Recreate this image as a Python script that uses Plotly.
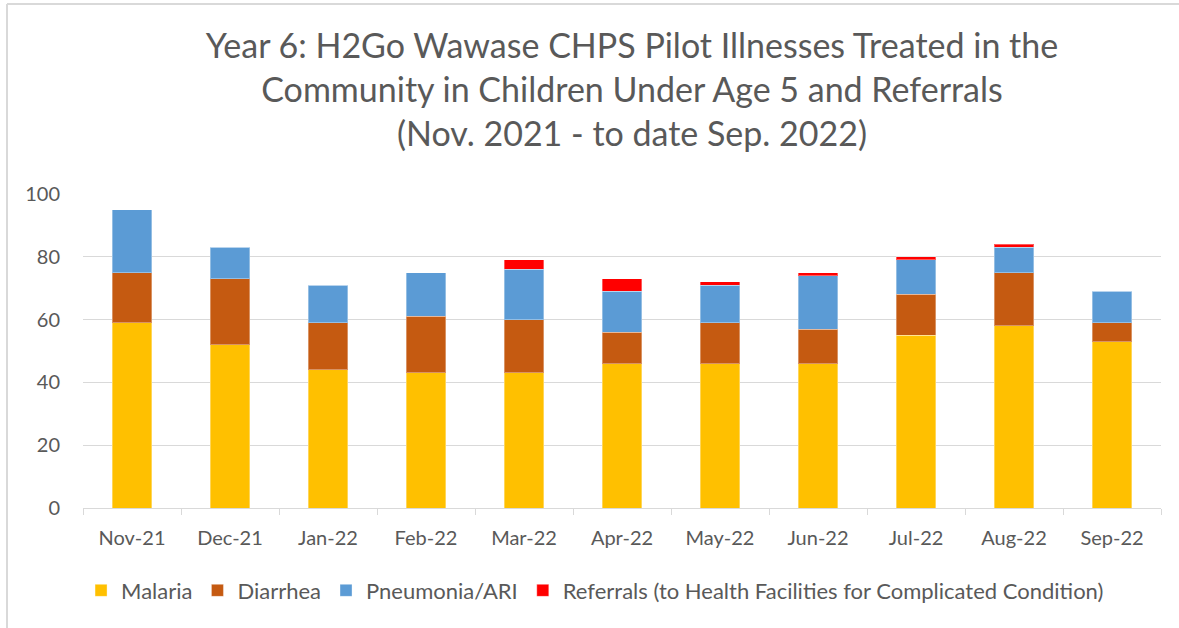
import plotly.graph_objects as go

months = ["Nov-21", "Dec-21", "Jan-22", "Feb-22", "Mar-22", "Apr-22",
          "May-22", "Jun-22", "Jul-22", "Aug-22", "Sep-22"]
malaria = [59, 52, 44, 43, 43, 46, 46, 46, 55, 58, 53]
diarrhea = [16, 21, 15, 18, 17, 10, 13, 11, 13, 17, 6]
pneumonia = [20, 10, 12, 14, 16, 13, 12, 17, 11, 8, 10]
referrals = [0, 0, 0, 0, 3, 4, 1, 1, 1, 1, 0]

series = [
    ("Malaria", malaria, "#FFC000"),
    ("Diarrhea", diarrhea, "#C55A11"),
    ("Pneumonia/ARI", pneumonia, "#5B9BD5"),
    ("Referrals (to Health Facilities for Complicated Condition)", referrals, "#FF0000"),
]

FONT = "Lato, 'Open Sans', sans-serif"
fig = go.Figure()
for name, vals, col in series:
    fig.add_trace(go.Bar(
        x=months, y=vals, name=name,
        marker=dict(color=col, line=dict(color="rgba(255,255,255,0.35)", width=1)),
    ))

fig.update_layout(
    barmode="stack",
    bargap=0.6,
    width=1179, height=628,
    margin=dict(l=83, r=18, t=194, b=120),
    paper_bgcolor="white", plot_bgcolor="white",
    font=dict(family=FONT, color="#595959", size=20),
    title=dict(
        text="Year 6: H2Go Wawase CHPS Pilot Illnesses Treated in the<br>Community in Children Under Age 5 and Referrals<br>(Nov. 2021 - to date Sep. 2022)",
        x=632/1179, xanchor="center", y=1 - 58/628, yanchor="top",
        font=dict(family=FONT, size=34, color="#595959"),
    ),
    legend=dict(
        orientation="h", x=0.475, xanchor="center", y=-0.196, yanchor="top",
        font=dict(family=FONT, size=22, color="#595959"),
        traceorder="normal", itemwidth=30,
    ),
    showlegend=True,
)
fig.update_yaxes(
    range=[0, 100], dtick=20, showgrid=True, gridcolor="#d9d9d9", gridwidth=1,
    zeroline=False, showline=False, ticks="", tickfont=dict(size=20, color="#595959"),
    ticklabelstandoff=22,
)
fig.update_xaxes(
    showline=True, linecolor="#d9d9d9", linewidth=1,
    ticks="outside", tickson="boundaries", ticklen=6, tickcolor="#d9d9d9",
    tickfont=dict(size=20, color="#595959"), ticklabelstandoff=12,
)

bx = (7 - 83) / 1078
ty = (508 - 4) / 314
fig.add_shape(type="line", xref="paper", yref="paper", x0=bx, x1=bx, y0=-1, y1=ty,
              line=dict(color="#d9d9d9", width=2))
fig.add_shape(type="line", xref="paper", yref="paper", x0=bx, x1=1.2, y0=ty, y1=ty,
              line=dict(color="#d9d9d9", width=2))

fig.write_html("out.html", config={"displayModeBar": False},
               post_script="document.body.style.margin='0';document.body.style.padding='0';")
